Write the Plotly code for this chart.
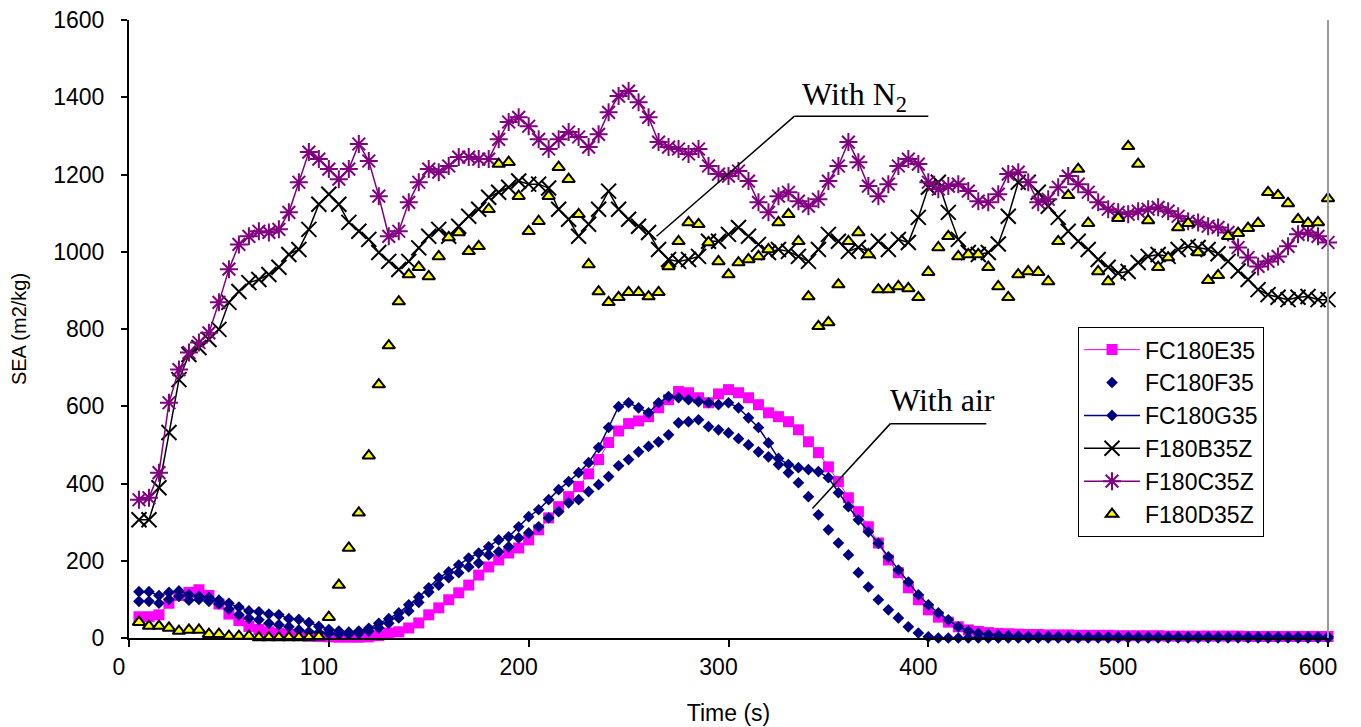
import plotly.graph_objects as go

time_s = list(range(5, 601, 5))

fc180e35 = [55, 55, 60, 90, 110, 118, 125, 110, 88, 62, 45, 30, 22, 16, 12, 9, 7, 5, 4, 3,
            2, 2, 2, 3, 6, 13, 16, 26, 39, 60, 78, 99, 117, 137, 163, 184, 202, 220, 233, 254,
            280, 311, 340, 366, 392, 425, 462, 506, 536, 555, 562, 573, 596, 617, 638, 635, 622, 609, 632, 643,
            635, 622, 604, 583, 573, 560, 539, 508, 480, 443, 405, 363, 327, 288, 246, 202, 169, 130, 99, 73,
            54, 41, 29, 21, 17, 14, 12, 11, 10, 9, 9, 8, 8, 8, 7, 7, 7, 7, 6, 6,
            6, 6, 6, 5, 5, 5, 5, 5, 5, 5, 5, 4, 4, 4, 4, 4, 4, 4, 4, 4]

fc180f35 = [95, 95, 90, 100, 108, 98, 100, 95, 88, 75, 60, 51, 47, 38, 34, 29, 21, 16, 14, 12,
            10, 10, 12, 18, 26, 38, 52, 70, 92, 119, 137, 156, 169, 184, 194, 215, 223, 236, 259, 272,
            288, 311, 327, 350, 358, 379, 397, 418, 446, 462, 482, 496, 508, 526, 557, 560, 565, 547, 539, 531,
            516, 500, 482, 469, 449, 428, 402, 366, 319, 280, 246, 215, 169, 132, 99, 73, 52, 29, 13, 3,
            0, 0, 0, 0, 0, 0, 0, 0, 0, 0, 0, 0, 0, 0, 0, 0, 0, 0, 0, 0,
            0, 0, 0, 0, 0, 0, 0, 0, 0, 0, 0, 0, 0, 0, 0, 0, 0, 0, 0, 0]

fc180g35 = [120, 120, 110, 118, 122, 112, 108, 105, 98, 90, 80, 70, 68, 62, 60, 50, 48, 40, 30, 22,
            18, 15, 18, 25, 38, 50, 65, 86, 106, 130, 156, 171, 189, 207, 220, 236, 254, 262, 288, 314,
            332, 358, 384, 405, 428, 454, 493, 545, 599, 609, 596, 583, 609, 625, 622, 617, 612, 609, 604, 609,
            596, 570, 545, 505, 465, 449, 441, 436, 431, 415, 376, 340, 306, 275, 245, 210, 176, 145, 112, 86,
            65, 47, 29, 18, 12, 9, 7, 6, 5, 4, 4, 4, 4, 3, 3, 3, 3, 3, 3, 3,
            3, 3, 3, 3, 3, 3, 3, 3, 3, 3, 3, 3, 3, 3, 3, 3, 3, 3, 3, 3]

f180b35z = [306, 306, 389, 532, 669, 734, 752, 773, 799, 869, 897, 920, 928, 941, 960, 993, 1006, 1058, 1123, 1149,
            1123, 1076, 1053, 1032, 998, 975, 954, 975, 1010, 1040, 1058, 1040, 1066, 1092, 1110, 1141, 1154, 1167, 1183, 1175,
            1175, 1165, 1110, 1084, 1040, 1071, 1110, 1157, 1110, 1084, 1066, 1050, 1006, 980, 975, 980, 988, 1027, 1027, 1045,
            1063, 1040, 1019, 998, 1006, 1001, 988, 975, 1006, 1045, 1027, 1001, 1011, 1001, 1027, 1006, 1032, 1024, 1089, 1167,
            1180, 1102, 1032, 998, 993, 998, 1020, 1092, 1180, 1180, 1154, 1118, 1089, 1053, 1027, 1006, 980, 960, 945, 949,
            972, 988, 993, 988, 1006, 1014, 1011, 1006, 995, 975, 950, 928, 902, 889, 882, 876, 882, 884, 876, 876]

f180c35z = [358, 363, 428, 609, 695, 739, 765, 790, 869, 955, 1019, 1040, 1053, 1050, 1058, 1102, 1180, 1258, 1240, 1214,
            1188, 1214, 1279, 1235, 1144, 1040, 1053, 1128, 1180, 1214, 1206, 1222, 1245, 1245, 1240, 1240, 1291, 1336, 1348, 1325,
            1291, 1266, 1291, 1310, 1297, 1271, 1304, 1361, 1403, 1416, 1387, 1348, 1284, 1271, 1266, 1253, 1266, 1222, 1201, 1196,
            1209, 1183, 1128, 1102, 1144, 1154, 1131, 1118, 1136, 1183, 1222, 1284, 1232, 1170, 1144, 1175, 1222, 1240, 1227, 1180,
            1162, 1170, 1175, 1157, 1131, 1128, 1149, 1201, 1206, 1180, 1128, 1136, 1167, 1196, 1175, 1154, 1128, 1110, 1102, 1097,
            1105, 1110, 1115, 1105, 1092, 1079, 1076, 1066, 1063, 1050, 1011, 985, 962, 975, 988, 1014, 1045, 1050, 1040, 1024]

f180d35z = [41, 31, 31, 26, 18, 21, 21, 10, 10, 5, 5, 5, 1, 1, 1, 1, 1, 1, 3, 54,
            137, 233, 324, 472, 656, 757, 871, 941, 960, 936, 988, 1037, 1050, 1001, 1014, 1110, 1227, 1232, 1144, 1053,
            1079, 1144, 1219, 1188, 1097, 967, 897, 869, 882, 895, 895, 884, 895, 962, 1027, 1076, 1071, 1024, 975, 941,
            972, 980, 988, 1006, 1076, 1097, 1027, 884, 807, 817, 915, 1027, 1050, 993, 902, 902, 910, 905, 882, 947,
            1011, 1040, 988, 993, 993, 960, 910, 882, 941, 949, 947, 923, 1027, 1146, 1214, 1074, 949, 923, 1087, 1273,
            1227, 1081, 960, 985, 1063, 1074, 998, 926, 939, 1040, 1048, 1061, 1074, 1154, 1146, 1125, 1084, 1074, 1076, 1138]

x_ticks = [0, 100, 200, 300, 400, 500, 600]
y_ticks = [0, 200, 400, 600, 800, 1000, 1200, 1400, 1600]

MAGENTA = "#FF00FF"
NAVY = "#000080"
PURPLE = "#800080"

fig = go.Figure()
fig.add_trace(go.Scatter(x=time_s, y=fc180e35, name="FC180E35", mode="lines+markers",
                         line=dict(color=MAGENTA, width=1),
                         marker=dict(symbol="square", size=11, color=MAGENTA), cliponaxis=False))
fig.add_trace(go.Scatter(x=time_s, y=fc180f35, name="FC180F35", mode="markers",
                         marker=dict(symbol="diamond", size=9, color=NAVY), cliponaxis=False))
fig.add_trace(go.Scatter(x=time_s, y=fc180g35, name="FC180G35", mode="lines+markers",
                         line=dict(color=NAVY, width=1.5),
                         marker=dict(symbol="diamond", size=9, color=NAVY), cliponaxis=False))
fig.add_trace(go.Scatter(x=time_s, y=f180b35z, name="F180B35Z", mode="lines+markers",
                         line=dict(color="black", width=1.5),
                         marker=dict(symbol="x-thin-open", size=15, color="black",
                                     line=dict(color="black", width=2)), cliponaxis=False))
fig.add_trace(go.Scatter(x=time_s, y=f180c35z, name="F180C35Z", mode="lines+markers",
                         line=dict(color=PURPLE, width=1.5),
                         marker=dict(symbol="asterisk-open", size=15, color=PURPLE,
                                     line=dict(color=PURPLE, width=2)), cliponaxis=False))
fig.add_trace(go.Scatter(x=time_s, y=f180d35z, name="F180D35Z", mode="markers",
                         marker=dict(symbol="triangle-up", size=11, color="#FFFF00",
                                     line=dict(color="black", width=2)), cliponaxis=False))

# leader lines for annotations
line_style = dict(color="black", width=1.5)
fig.add_shape(type="line", xref="x", yref="y", x0=264, y0=1040, x1=333, y1=1351, line=line_style)
fig.add_shape(type="line", xref="x", yref="y", x0=333, y0=1351, x1=400, y1=1351, line=line_style)
fig.add_shape(type="line", xref="x", yref="y", x0=342, y0=335, x1=381, y1=555, line=line_style)
fig.add_shape(type="line", xref="x", yref="y", x0=381, y0=555, x1=429, y1=555, line=line_style)
fig.add_shape(type="line", xref="paper", yref="paper", x0=1, y0=0, x1=1, y1=1,
              line=dict(color="#9a9a9a", width=2))

serif = "Liberation Serif, Times New Roman, serif"
fig.add_annotation(x=363, y=1403, xref="x", yref="y", text="With N<sub>2</sub>", showarrow=False,
                   font=dict(family=serif, size=32, color="black"))
fig.add_annotation(x=407, y=617, xref="x", yref="y", text="With air", showarrow=False,
                   font=dict(family=serif, size=32, color="black"))

axis_font = dict(family="Liberation Sans, Arial, sans-serif", size=23, color="black")

fig.update_layout(
    width=1361, height=727,
    margin=dict(l=121, r=41, t=12, b=97),
    paper_bgcolor="white", plot_bgcolor="white",
    font=axis_font,
    showlegend=True,
    legend=dict(x=0.7915, y=0.503, xanchor="left", yanchor="top",
                bgcolor="white", bordercolor="black", borderwidth=1,
                font=dict(family="Liberation Sans, Arial, sans-serif", size=23, color="black"),
                itemwidth=56, tracegroupgap=0),
    xaxis=dict(range=[0, 600], tickvals=x_ticks, ticktext=[str(v) for v in x_ticks],
               showgrid=False, zeroline=False, showline=True, linecolor="black", linewidth=2,
               ticks="outside", ticklen=7, tickwidth=2, tickcolor="black",
               tickfont=axis_font, ticklabelshift=-10, ticklabeloverflow="allow",
               title=dict(text="Time (s)", font=axis_font, standoff=26)),
    yaxis=dict(range=[0, 1600], tickvals=y_ticks, ticktext=[str(v) for v in y_ticks],
               showgrid=False, zeroline=False, showline=True, linecolor="black", linewidth=2,
               ticks="outside", ticklen=6, tickwidth=2, tickcolor="black",
               tickfont=axis_font, ticklabelstandoff=12, automargin=False,
               ticklabeloverflow="allow",
               title=dict(text="SEA (m2/kg)", font=dict(family="Liberation Sans, Arial, sans-serif", size=20, color="black"), standoff=26)),
)

fig.write_html("out.html")
